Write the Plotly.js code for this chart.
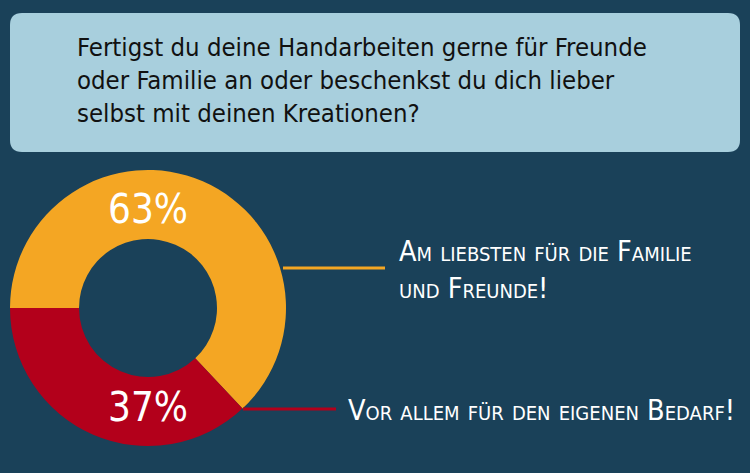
<!DOCTYPE html>
<html>
<head>
<meta charset="utf-8">
<script src="https://cdn.plot.ly/plotly-3.0.1.min.js"></script>
<style>
html,body{margin:0;padding:0;background:#1a4159;}
#chart{width:750px;height:473px;}
</style>
</head>
<body>
<div id="chart"></div>
<script>
const question = "Fertigst du deine Handarbeiten gerne für Freunde<br>oder Familie an oder beschenkst du dich lieber<br>selbst mit deinen Kreationen?";
const categories = ["Am liebsten für die Familie<br>und Freunde!", "Vor allem für den eigenen Bedarf!"];
const values = [63, 37];
const colors = ["#f4a623", "#b3001b"];

const W = 750, H = 473;
const px = x => x / W;
const py = y => 1 - y / H;

const handFont = "DejaVu Sans Condensed, Liberation Sans Narrow, sans-serif";

const trace = {
  type: "pie",
  values: values,
  labels: categories,
  marker: {colors: colors, line: {width: 0}},
  hole: 0.5,
  sort: false,
  direction: "clockwise",
  rotation: -90,
  texttemplate: "%{value}%",
  textposition: "inside",
  insidetextorientation: "horizontal",
  textfont: {family: handFont, size: 40, color: "#ffffff"},
  domain: {x: [px(10), px(286)], y: [py(446), py(170)]},
  showlegend: false,
  hoverinfo: "label+percent"
};

function roundRect(x0, y0, x1, y1, r) {
  const X = v => px(v), Y = v => py(v);
  return `M ${X(x0 + r)} ${Y(y0)} L ${X(x1 - r)} ${Y(y0)} Q ${X(x1)} ${Y(y0)} ${X(x1)} ${Y(y0 + r)} ` +
         `L ${X(x1)} ${Y(y1 - r)} Q ${X(x1)} ${Y(y1)} ${X(x1 - r)} ${Y(y1)} ` +
         `L ${X(x0 + r)} ${Y(y1)} Q ${X(x0)} ${Y(y1)} ${X(x0)} ${Y(y1 - r)} ` +
         `L ${X(x0)} ${Y(y0 + r)} Q ${X(x0)} ${Y(y0)} ${X(x0 + r)} ${Y(y0)} Z`;
}

const layout = {
  width: W, height: H,
  margin: {l: 0, r: 0, t: 0, b: 0},
  paper_bgcolor: "#1a4159",
  plot_bgcolor: "#1a4159",
  shapes: [
    {type: "path", xref: "paper", yref: "paper", path: roundRect(10, 13, 740, 152, 12),
     fillcolor: "#a8cfdd", line: {width: 0}, layer: "below"},
    {type: "line", xref: "paper", yref: "paper", x0: px(283), x1: px(385), y0: py(268), y1: py(268),
     line: {color: colors[0], width: 3}},
    {type: "line", xref: "paper", yref: "paper", x0: px(243), x1: px(336), y0: py(409), y1: py(409),
     line: {color: colors[1], width: 3}}
  ],
  annotations: [
    {text: question, xref: "paper", yref: "paper", x: px(75), y: py(80), xanchor: "left", yanchor: "middle",
     align: "left", showarrow: false, font: {family: "DejaVu Sans Condensed, sans-serif", size: 25.5, color: "#111111"}},
    {text: categories[0], xref: "paper", yref: "paper", x: px(397), y: py(270), xanchor: "left", yanchor: "middle",
     align: "left", showarrow: false, font: {family: handFont, size: 28.5, color: "#ffffff", variant: "small-caps"}},
    {text: categories[1], xref: "paper", yref: "paper", x: px(346), y: py(410), xanchor: "left", yanchor: "middle",
     align: "left", showarrow: false, font: {family: handFont, size: 28.5, color: "#ffffff", variant: "small-caps"}}
  ]
};

Plotly.newPlot("chart", [trace], layout, {staticPlot: true, displayModeBar: false});
</script>
</body>
</html>
